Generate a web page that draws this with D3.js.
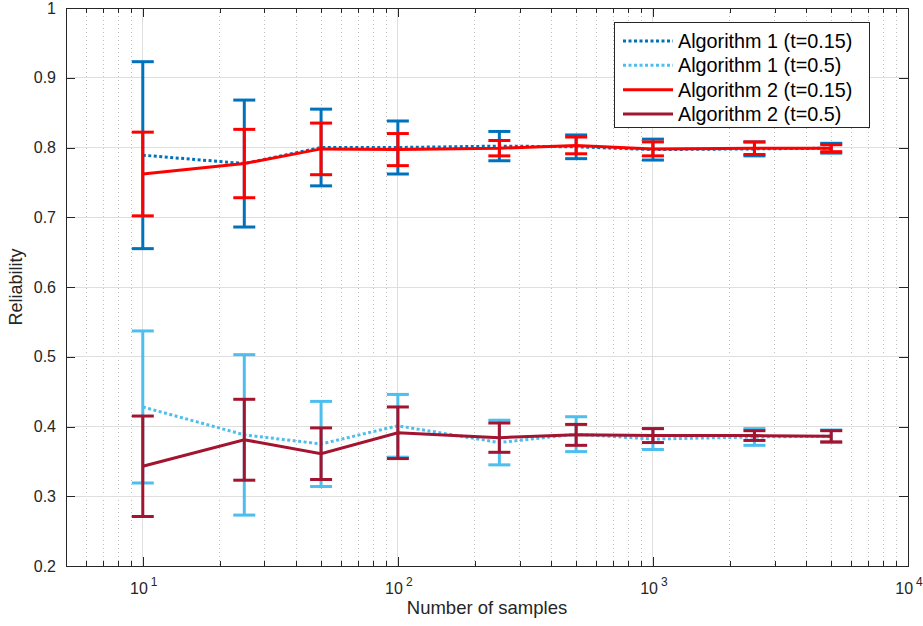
<!DOCTYPE html>
<html>
<head>
<meta charset="utf-8">
<script src="https://cdn.jsdelivr.net/npm/d3@7/dist/d3.min.js"></script>
<style>
  html, body { margin: 0; padding: 0; background: #ffffff; }
  svg { display: block; font-family: "Liberation Sans", Arial, Helvetica, sans-serif; }
</style>
</head>
<body>
<svg id="chart" width="923" height="626"></svg>
<script>
// ---- data ----
const samples = [10, 25, 50, 100, 250, 500, 1000, 2500, 5000];

const alg1T015Mean = [0.789, 0.777, 0.800, 0.800, 0.802, 0.801, 0.797, 0.798, 0.799];
const alg1T015Err  = [0.134, 0.091, 0.055, 0.038, 0.021, 0.017, 0.015, 0.010, 0.007];

const alg1T05Mean  = [0.428, 0.388, 0.375, 0.401, 0.377, 0.389, 0.382, 0.385, 0.386];
const alg1T05Err   = [0.109, 0.115, 0.061, 0.045, 0.032, 0.025, 0.015, 0.012, 0.009];

const alg2T015Mean = [0.762, 0.777, 0.798, 0.797, 0.799, 0.803, 0.798, 0.799, 0.799];
const alg2T015Err  = [0.060, 0.049, 0.037, 0.023, 0.011, 0.012, 0.010, 0.009, 0.005];

const alg2T05Mean  = [0.343, 0.381, 0.361, 0.391, 0.384, 0.388, 0.387, 0.387, 0.386];
const alg2T05Err   = [0.072, 0.058, 0.037, 0.037, 0.021, 0.015, 0.010, 0.007, 0.008];

const seriesNames = ["Algorithm 1 (t=0.15)", "Algorithm 1 (t=0.5)", "Algorithm 2 (t=0.15)", "Algorithm 2 (t=0.5)"];
const xTickValues = [10, 100, 1000, 10000];
const xTickExponents = ["1", "2", "3", "4"];
const yTickValues = [0.2, 0.3, 0.4, 0.5, 0.6, 0.7, 0.8, 0.9, 1];
const yTickLabels = ["0.2", "0.3", "0.4", "0.5", "0.6", "0.7", "0.8", "0.9", "1"];
const xLabel = "Number of samples";
const yLabel = "Reliability";

// ---- layout ----
const L = 66, R = 908, T = 8, B = 566;
const svg = d3.select("#chart");
const x = d3.scaleLog().domain([5, 10000]).range([L, R]);
const y = d3.scaleLinear().domain([0.2, 1]).range([B, T]);

const axisColor = "#262626";

// minor grid (dotted vertical)
const minorVals = [];
[1, 10, 100, 1000].forEach(dec => {
  for (let k = 2; k <= 9; k++) {
    const v = dec * k;
    if (v >= 5 && v < 10000 && v !== 10) minorVals.push(v);
  }
});
const gGrid = svg.append("g");
gGrid.selectAll("line.minor").data(minorVals).enter().append("line")
  .attr("x1", d => x(d)).attr("x2", d => x(d)).attr("y1", T).attr("y2", B)
  .attr("stroke", "#c0c0c0").attr("stroke-width", 1).attr("stroke-dasharray", "1,3")
  .attr("shape-rendering", "crispEdges");
// major grid
gGrid.selectAll("line.mx").data(xTickValues.slice(0, 3)).enter().append("line")
  .attr("x1", d => x(d)).attr("x2", d => x(d)).attr("y1", T).attr("y2", B)
  .attr("stroke", "#dfdfdf").attr("stroke-width", 1).attr("shape-rendering", "crispEdges");
gGrid.selectAll("line.my").data(yTickValues.slice(1, -1)).enter().append("line")
  .attr("x1", L).attr("x2", R).attr("y1", d => y(d)).attr("y2", d => y(d))
  .attr("stroke", "#dfdfdf").attr("stroke-width", 1).attr("shape-rendering", "crispEdges");

// axes via d3 (ticks inward)
const majLen = 9, minLen = 5;
function styleAxis(g) {
  g.selectAll("path.domain").remove();
  g.selectAll("line").attr("stroke", axisColor).attr("shape-rendering", "crispEdges");
  g.selectAll("text").remove();
}
svg.append("g").attr("transform", `translate(0,${B})`)
  .call(d3.axisBottom(x).tickValues(xTickValues).tickSize(-majLen)).call(styleAxis);
svg.append("g").attr("transform", `translate(0,${B})`)
  .call(d3.axisBottom(x).tickValues(minorVals).tickSize(-minLen)).call(styleAxis);
svg.append("g").attr("transform", `translate(0,${T})`)
  .call(d3.axisTop(x).tickValues(xTickValues).tickSize(-majLen)).call(styleAxis);
svg.append("g").attr("transform", `translate(0,${T})`)
  .call(d3.axisTop(x).tickValues(minorVals).tickSize(-minLen)).call(styleAxis);
svg.append("g").attr("transform", `translate(${L},0)`)
  .call(d3.axisLeft(y).tickValues(yTickValues).tickSize(-majLen)).call(styleAxis);
svg.append("g").attr("transform", `translate(${R},0)`)
  .call(d3.axisRight(y).tickValues(yTickValues).tickSize(-majLen)).call(styleAxis);

// box
svg.append("rect").attr("x", L).attr("y", T).attr("width", R - L).attr("height", B - T)
  .attr("fill", "none").attr("stroke", axisColor).attr("stroke-width", 1).attr("shape-rendering", "crispEdges");

// tick labels
svg.append("g").selectAll("text").data(yTickValues).enter().append("text")
  .attr("x", L - 10).attr("y", d => y(d)).attr("dy", "0.35em")
  .attr("text-anchor", "end").attr("font-size", 16).attr("fill", axisColor)
  .text((d, i) => yTickLabels[i]);

const xl = svg.append("g").selectAll("text").data(xTickValues).enter().append("text")
  .attr("x", d => x(d) + 1).attr("y", 594)
  .attr("text-anchor", "middle").attr("font-size", 16).attr("fill", axisColor);
xl.append("tspan").text("10");
xl.append("tspan").attr("dx", 3).attr("dy", -8).attr("font-size", 12).text((d, i) => xTickExponents[i]);

// axis labels
svg.append("text").attr("x", (L + R) / 2).attr("y", 614).attr("text-anchor", "middle")
  .attr("font-size", 18.5).attr("fill", axisColor).text(xLabel);
svg.append("text").attr("transform", `translate(22,${(T + B) / 2}) rotate(-90)`)
  .attr("text-anchor", "middle").attr("font-size", 18).attr("fill", axisColor).text(yLabel);

// ---- series ----
const series = [
  { name: seriesNames[0], mean: alg1T015Mean, err: alg1T015Err, color: "#0072BD", dash: "3,2.5" },
  { name: seriesNames[1], mean: alg1T05Mean,  err: alg1T05Err,  color: "#4DBEEE", dash: "3,2.5" },
  { name: seriesNames[2], mean: alg2T015Mean, err: alg2T015Err, color: "#FF0000", dash: null },
  { name: seriesNames[3], mean: alg2T05Mean,  err: alg2T05Err,  color: "#A2142F", dash: null }
];
const capW = 11;
const line = d3.line().x(d => x(d[0])).y(d => y(d[1]));
series.forEach(s => {
  const pts = samples.map((v, i) => [v, s.mean[i], s.err[i]]);
  const g = svg.append("g");
  g.append("path").datum(pts).attr("d", line).attr("fill", "none")
    .attr("stroke", s.color).attr("stroke-width", 3)
    .attr("stroke-dasharray", s.dash);
  const eb = g.selectAll("g.eb").data(pts).enter().append("g");
  eb.append("line").attr("x1", d => x(d[0])).attr("x2", d => x(d[0]))
    .attr("y1", d => y(d[1] - d[2])).attr("y2", d => y(d[1] + d[2]))
    .attr("stroke", s.color).attr("stroke-width", 3);
  eb.append("line").attr("x1", d => x(d[0]) - capW).attr("x2", d => x(d[0]) + capW)
    .attr("y1", d => y(d[1] + d[2])).attr("y2", d => y(d[1] + d[2]))
    .attr("stroke", s.color).attr("stroke-width", 3);
  eb.append("line").attr("x1", d => x(d[0]) - capW).attr("x2", d => x(d[0]) + capW)
    .attr("y1", d => y(d[1] - d[2])).attr("y2", d => y(d[1] - d[2]))
    .attr("stroke", s.color).attr("stroke-width", 3);
});

// ---- legend ----
const lg = svg.append("g");
lg.append("rect").attr("x", 614).attr("y", 22).attr("width", 255).attr("height", 105)
  .attr("fill", "#ffffff").attr("stroke", axisColor).attr("stroke-width", 1).attr("shape-rendering", "crispEdges");
const rowY = d3.scalePoint().domain(seriesNames).range([41, 114]);
series.forEach(s => {
  const yy = rowY(s.name);
  lg.append("line").attr("x1", 623).attr("x2", 673).attr("y1", yy).attr("y2", yy)
    .attr("stroke", s.color).attr("stroke-width", 3).attr("stroke-dasharray", s.dash);
  lg.append("text").attr("x", 678).attr("y", yy).attr("dy", "0.35em")
    .attr("font-size", 19.8).attr("fill", "#000").text(s.name);
});
</script>
</body>
</html>
